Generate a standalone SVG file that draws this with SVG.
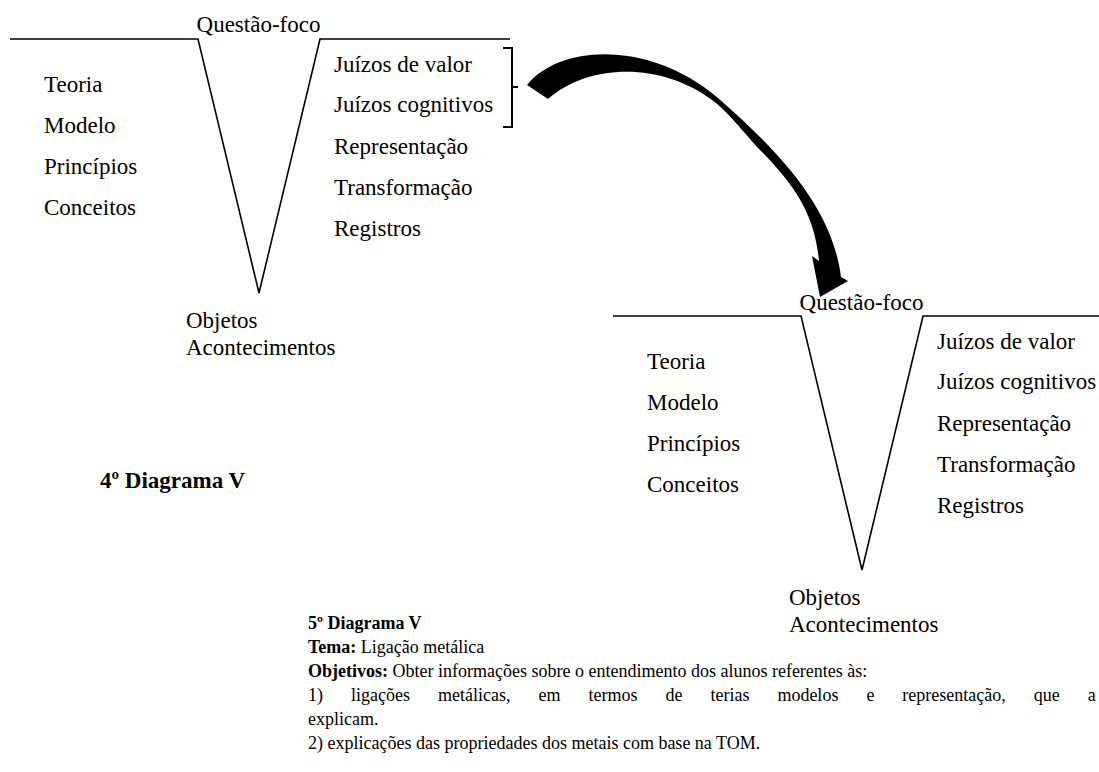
<svg xmlns="http://www.w3.org/2000/svg" width="1099" height="772" viewBox="0 0 1099 772" font-family="'Liberation Serif', 'Times New Roman', serif">
  <style>
    text { font-family: "Liberation Serif", "Times New Roman", serif; fill: #000; }
    .big { font-size: 23px; }
    .small { font-size: 18px; }
    .b { font-weight: bold; }
    .vline { fill: none; stroke: #000; stroke-width: 1.6; stroke-linejoin: miter; }
    .brk { fill: none; stroke: #000; stroke-width: 2; }
  </style>
  <rect width="1099" height="772" fill="#fff"/>

  <!-- Diagrama V (4º) -->
  <g id="v4">
    <polyline class="vline" points="10,39 198,39 259,293 320,39 510,39"/>
    <text class="big" x="258.5" y="32" text-anchor="middle">Questão-foco</text>
    <text class="big" x="44" y="92">Teoria</text>
    <text class="big" x="44" y="133">Modelo</text>
    <text class="big" x="44" y="174">Princípios</text>
    <text class="big" x="44" y="215">Conceitos</text>
    <text class="big" x="334" y="72">Juízos de valor</text>
    <text class="big" x="334" y="112">Juízos cognitivos</text>
    <text class="big" x="334" y="154">Representação</text>
    <text class="big" x="334" y="195">Transformação</text>
    <text class="big" x="334" y="236">Registros</text>
    <text class="big" x="186" y="328">Objetos</text>
    <text class="big" x="186" y="355">Acontecimentos</text>
    <path class="brk" d="M503,48 H512 V127 H503 M512,87 H518"/>
  </g>

  <!-- Diagrama V (5º) -->
  <g id="v5">
    <polyline class="vline" points="613,316 801,316 862,570 923,316 1113,316"/>
    <text class="big" x="861.5" y="310" text-anchor="middle">Questão-foco</text>
    <text class="big" x="647" y="369">Teoria</text>
    <text class="big" x="647" y="410">Modelo</text>
    <text class="big" x="647" y="451">Princípios</text>
    <text class="big" x="647" y="492">Conceitos</text>
    <text class="big" x="937" y="349">Juízos de valor</text>
    <text class="big" x="937" y="389">Juízos cognitivos</text>
    <text class="big" x="937" y="431">Representação</text>
    <text class="big" x="937" y="472">Transformação</text>
    <text class="big" x="937" y="513">Registros</text>
    <text class="big" x="789" y="605">Objetos</text>
    <text class="big" x="789" y="632">Acontecimentos</text>
  </g>

  <!-- curved block arrow: thick at the tail, pinched mid-way, widening into the head -->
  <g id="connectors">
    <path fill="#000" d="M527,85 C560,44 650,40 718,98 C775,148 832,205 841,277 L848,281 L820,297 L812,256 L819,261 C815,215 795,185 760,150 C740,128 730,115 716,103 C665,62 590,62 548,99 Z"/>
  </g>

  <g id="caption4">
    <text class="big b" x="100" y="488">4º Diagrama V</text>
  </g>

  <g id="caption5">
    <text class="small b" x="308" y="629" font-size="19">5º Diagrama V</text>
    <text class="small" x="308" y="653"><tspan class="b">Tema:</tspan> Ligação metálica</text>
    <text class="small" x="308" y="677"><tspan class="b">Objetivos:</tspan> Obter informações sobre o entendimento dos alunos referentes às:</text>
    <text class="small" x="308" y="701" word-spacing="23.5">1) ligações metálicas, em termos de terias modelos e representação, que a</text>
    <text class="small" x="308" y="725">explicam.</text>
    <text class="small" x="308" y="749">2) explicações das propriedades dos metais com base na TOM.</text>
  </g>
</svg>
